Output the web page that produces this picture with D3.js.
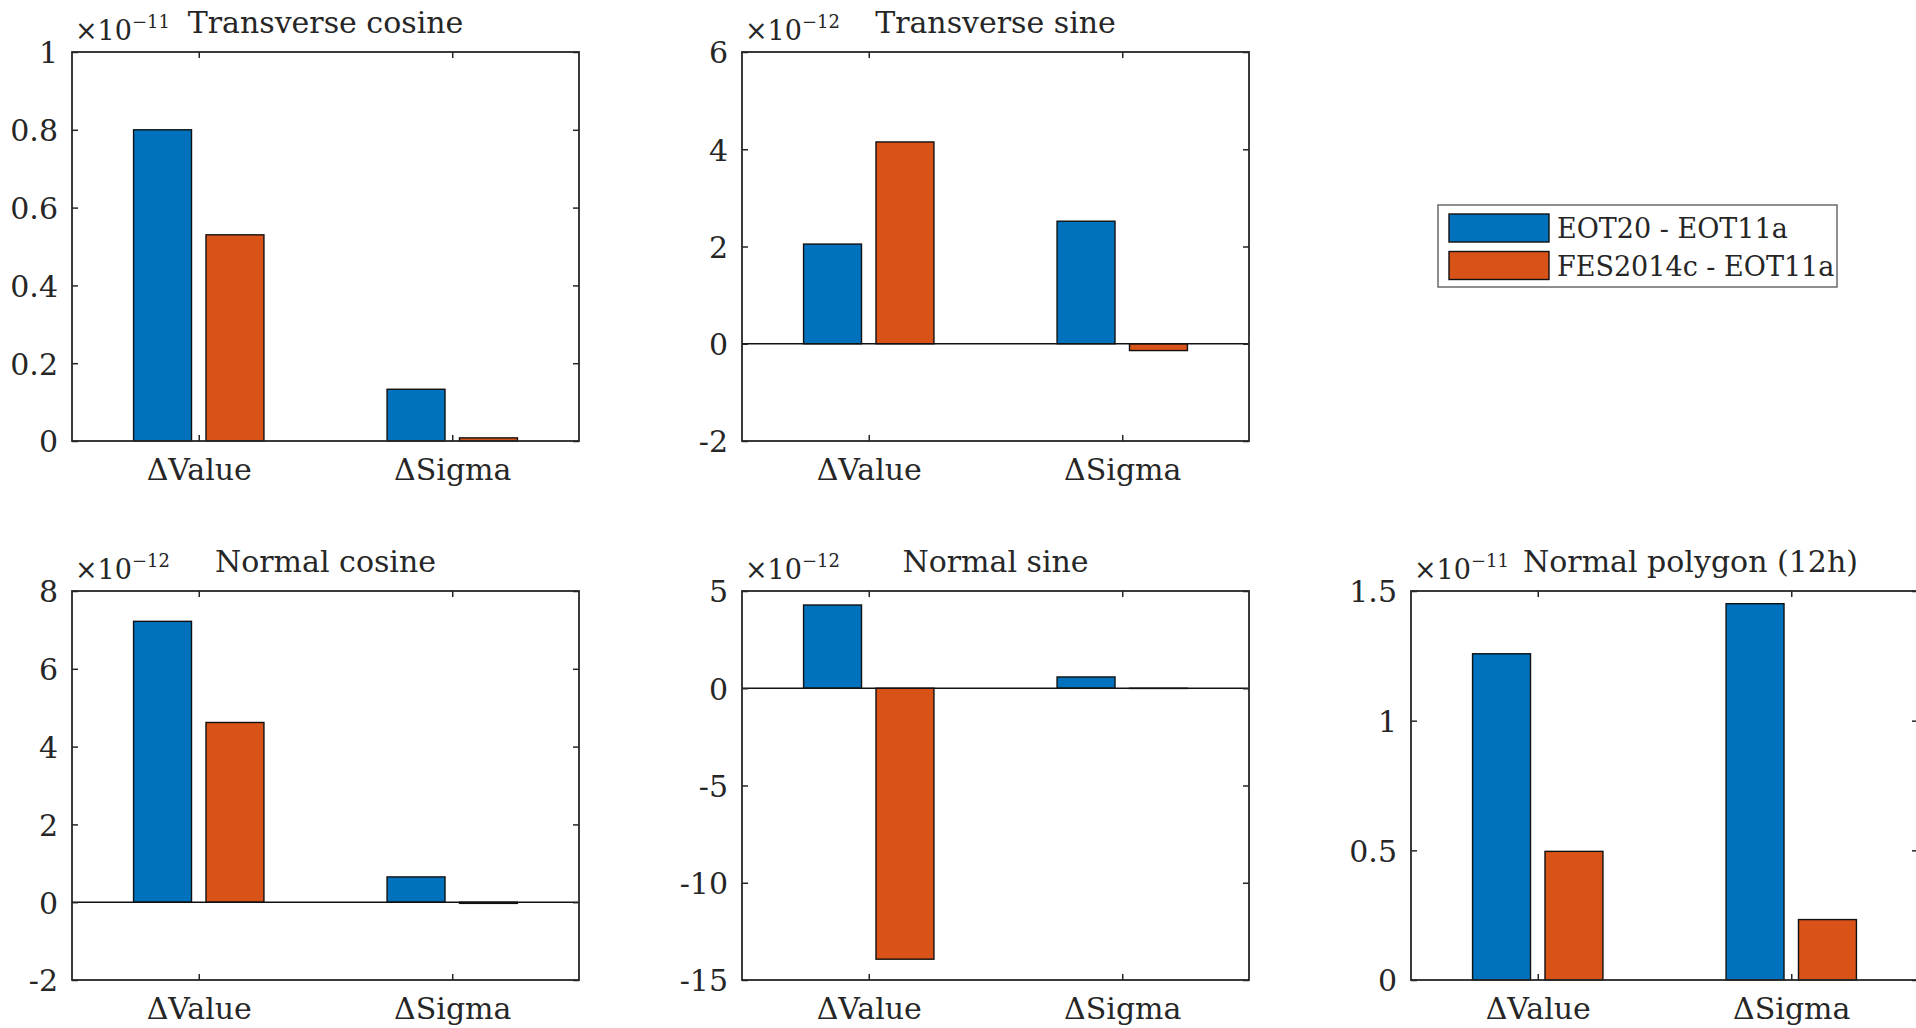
<!DOCTYPE html>
<html>
<head>
<meta charset="utf-8">
<script src="https://cdn.jsdelivr.net/npm/d3@7"></script>
<style>
  body { margin: 0; background: #fff; }
  svg text { font-family: "DejaVu Serif", "Liberation Serif", serif; fill: #262626; }
</style>
</head>
<body>
<svg width="1916" height="1028"></svg>
<script>
// data
const categories = ["ΔValue", "ΔSigma"];
const seriesNames = ["EOT20 - EOT11a", "FES2014c - EOT11a"];
const seriesColors = ["#0072BD", "#D95319"];
const panelTitles = ["Transverse cosine", "Transverse sine", "Normal cosine", "Normal sine", "Normal polygon (12h)"];
const exponents = ["−11", "−12", "−12", "−12", "−11"];
const yDomains = [[0, 1], [-2, 6], [-2, 8], [-15, 5], [0, 1.5]];
const yTicks = [
  [0, 0.2, 0.4, 0.6, 0.8, 1],
  [-2, 0, 2, 4, 6],
  [-2, 0, 2, 4, 6, 8],
  [-15, -10, -5, 0, 5],
  [0, 0.5, 1, 1.5]
];
const eotValues = [[0.80, 0.133], [2.05, 2.52], [7.22, 0.65], [4.28, 0.58], [1.258, 1.451]];
const fesValues = [[0.53, 0.008], [4.15, -0.14], [4.62, -0.03], [-13.93, -0.01], [0.496, 0.233]];

var svg = d3.select("svg");
var fontFam = "'DejaVu Serif', 'Liberation Serif', serif";

// panel grid (col, row)
var panelSlots = [[0, 0], [1, 0], [0, 1], [1, 1], [2, 1]];
var colLeft = [72, 742, 1411],
    rowTop = [52, 591],
    pw = 507,
    ph = 389;

// matlab grouped bar geometry
var nSeries = 2;
var groupWidth = Math.min(0.8, nSeries / (nSeries + 1.5));
var barWidth = groupWidth / nSeries * 0.8;

panelTitles.forEach(function(title, p) {
    var left = colLeft[panelSlots[p][0]],
        top = rowTop[panelSlots[p][1]];
    var g = svg.append("g").attr("transform", "translate(" + left + "," + top + ")");

    var x = d3.scaleLinear().domain([0.5, 2.5]).range([0, pw]);
    var y = d3.scaleLinear().domain(yDomains[p]).range([ph, 0]);

    var rows = [];
    [eotValues[p], fesValues[p]].forEach(function(vals, s) {
        vals.forEach(function(v, c) {
            rows.push({ s: s, c: c + 1, v: v });
        });
    });

    g.selectAll("rect.bar")
        .data(rows)
        .enter()
        .append("rect")
        .attr("class", "bar")
        .attr("x", function(d) { return x(d.c + (d.s - 0.5) * groupWidth / nSeries - barWidth / 2); })
        .attr("width", function(d) { return x(barWidth) - x(0); })
        .attr("y", function(d) { return y(Math.max(0, d.v)); })
        .attr("height", function(d) { return Math.abs(y(d.v) - y(0)); })
        .attr("fill", function(d) { return seriesColors[d.s]; })
        .attr("stroke", "#111")
        .attr("stroke-width", 1.4);

    // zero baseline
    if (yDomains[p][0] < 0) {
        g.append("line")
            .attr("x1", 0).attr("x2", pw)
            .attr("y1", y(0)).attr("y2", y(0))
            .attr("stroke", "#111").attr("stroke-width", 1.6);
    }

    var tickVals = [1, 2];
    var axL = g.append("g").call(d3.axisLeft(y).tickValues(yTicks[p]).tickSize(-6).tickPadding(14).tickFormat(function(d) { return String(d); }));
    var axR = g.append("g").attr("transform", "translate(" + pw + ",0)").call(d3.axisRight(y).tickValues(yTicks[p]).tickSize(-6).tickFormat(""));
    var axT = g.append("g").call(d3.axisTop(x).tickValues(tickVals).tickSize(-6).tickFormat(""));
    var axB = g.append("g").attr("transform", "translate(0," + ph + ")")
        .call(d3.axisBottom(x).tickValues(tickVals).tickSize(-6).tickPadding(18).tickFormat(function(d) { return categories[d - 1]; }));

    [axL, axR, axT, axB].forEach(function(a) {
        a.attr("font-family", null);
        a.select(".domain").remove();
        a.selectAll("line").attr("stroke", "#262626").attr("stroke-width", 1.5);
        a.selectAll("text")
            .style("font-family", fontFam)
            .style("font-size", "30px")
            .attr("fill", "#262626");
    });
    axB.selectAll("text").attr("dy", "0.71em");
    axL.selectAll("text").attr("dy", "0.36em");

    // box
    g.append("rect")
        .attr("width", pw).attr("height", ph)
        .attr("fill", "none")
        .attr("stroke", "#262626")
        .attr("stroke-width", 1.8);

    // exponent label
    var ex = g.append("text")
        .attr("x", 3)
        .attr("y", -12)
        .style("font-size", "27px");
    ex.append("tspan").text("×10");
    ex.append("tspan")
        .attr("dy", -12)
        .style("font-size", "18px")
        .text(exponents[p]);
    var exRight = 3 + ex.node().getComputedTextLength();

    // title, pushed right when it would hit the exponent label
    var t = g.append("text")
        .attr("x", pw / 2)
        .attr("y", -19)
        .attr("text-anchor", "middle")
        .style("font-size", "30px")
        .text(title);
    var tw = t.node().getComputedTextLength();
    if (pw / 2 - tw / 2 < exRight + 12) {
        t.attr("text-anchor", "start").attr("x", exRight + 14);
    }
});

// legend
var lg = svg.append("g").attr("transform", "translate(1438,205)");
lg.append("rect")
    .attr("width", 399).attr("height", 82)
    .attr("fill", "#fff")
    .attr("stroke", "#6a6a6a")
    .attr("stroke-width", 1.5);
var items = lg.selectAll("g.item")
    .data(seriesNames)
    .enter()
    .append("g")
    .attr("class", "item")
    .attr("transform", function(d, i) { return "translate(11," + (9 + i * 37.5) + ")"; });
items.append("rect")
    .attr("width", 100).attr("height", 28)
    .attr("fill", function(d, i) { return seriesColors[i]; })
    .attr("stroke", "#111")
    .attr("stroke-width", 1.4);
items.append("text")
    .attr("x", 108)
    .attr("y", 24)
    .style("font-size", "27px")
    .text(function(d) { return d; });
</script>
</body>
</html>
